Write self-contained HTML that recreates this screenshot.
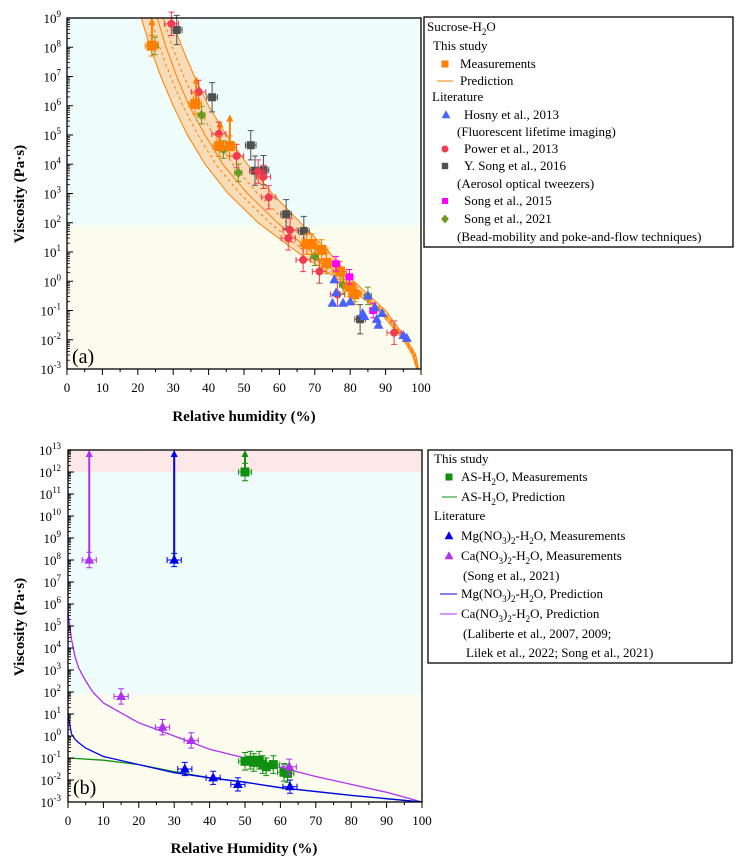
<!DOCTYPE html>
<html><head><meta charset="utf-8"><style>
body{margin:0;background:#fff;}
svg{display:block;font-family:"Liberation Serif",serif;}
</style></head><body>
<svg id="fig" width="736" height="867" viewBox="0 0 736 867">
<g id="pa"></g>
<g id="pb"></g>
</svg>
<script>
// ---------- Panel (a) data ----------
const bandLogs=[9,8,7,6,5,4,3,2,1,0,-1,-2,-2.5,-3];
const bandLower=[21,23.5,26.5,30,34,39,45.5,54,65,77.5,88,95,97.5,98.8];
const bandCenter=[25.5,28,31,34.5,39,44,51,59.5,69,79,89,95.5,98,99];
const bandUpper=[29.5,32.5,36,40,45,51,58,66,74,81,90,96,98.5,99.3];
const orangeRH=[23.9,36.2,43,46,67.7,69.1,71.9,73.3,77.1,79.8,81.2];
const orangeLog=[8.05,6.06,4.62,4.62,1.27,1.27,1.07,0.62,0.33,-0.19,-0.45];
const orangeArrowRH=[24,36.5,43.2,46];
const orangeArrowFrom=[8.05,6.06,4.62,4.62];
const orangeArrowTo=[9,7,5.5,5.7];
const redRH=[29.5,37.2,42.9,47.9,55.5,57,63,62.5,66.7,71.3,76.4,92.4,54];
const redLog=[8.8,6.47,5.04,4.28,3.57,2.87,1.75,1.47,0.73,0.33,-0.45,-1.76,3.75];
const blackRH=[31,41,51.9,53.1,55.5,61.9,66.9,82.8];
const blackLog=[8.59,6.29,4.65,3.78,3.8,2.29,1.72,-1.3];
const greenRH=[24.8,38,44.2,48.4,70,78,81.2,85];
const greenLog=[8.05,5.68,4.5,3.71,0.84,-0.13,-0.4,-0.5];
const blueRH=[75.5,75,76,78,80,83.5,84,85,87,87.5,88,89,95,96];
const blueLog=[0.05,-0.75,-0.4,-0.75,-0.7,-1.1,-1.2,-0.5,-0.9,-1.3,-1.5,-1.1,-1.85,-1.95];
const magRH=[76,79.8,86.5];
const magLog=[0.6,0.15,-1.0];
const aYTicks=[9,8,7,6,5,4,3,2,1,0,-1,-2,-3];
const xTicks=[0,10,20,30,40,50,60,70,80,90,100];
// ---------- Panel (b) data ----------
const caPredRH=[0,0.5,1,2,3,5,7,10,15,20,25,30,40,50,60,70,80,90,100];
const caPredLog=[5.6,5.0,4.4,3.6,3.1,2.5,2.0,1.5,1.05,0.6,0.3,0.0,-0.6,-1.0,-1.43,-1.84,-2.2,-2.56,-3];
const mgPredRH=[0,0.5,1,2,3,5,10,20,30,40,50,60,80,100];
const mgPredLog=[1.05,0.5,0.1,-0.15,-0.3,-0.55,-0.93,-1.3,-1.67,-1.9,-2.1,-2.35,-2.7,-3];
const asPredRH=[0,10,20,30,40,50,60,80,100];
const asPredLog=[-1.0,-1.1,-1.3,-1.62,-1.9,-2.1,-2.35,-2.7,-3];
const caRH=[6,15,26.7,34.8,62.5];
const caLog=[8,1.8,0.4,-0.2,-1.4];
const mgRH=[30,33,41,48,62.7];
const mgLog=[8,-1.5,-1.9,-2.2,-2.3];
const asRH=[50,50,51.5,52.5,54,55,56,58,61,62];
const asLog=[12,-1.15,-1.1,-1.2,-1.1,-1.3,-1.4,-1.3,-1.65,-1.7];
const bYTicks=[13,12,11,10,9,8,7,6,5,4,3,2,1,0,-1,-2,-3];

const NS="http://www.w3.org/2000/svg";
function mk(parent,tag,attrs,text){const e=document.createElementNS(NS,tag);for(const k in attrs)e.setAttribute(k,attrs[k]);if(text!==undefined)e.textContent=text;parent.appendChild(e);return e;}
const xA=r=>67+r*3.54, yA=l=>18+(9-l)*29.25;
const xB=r=>68+r*3.54, yB=l=>450+(13-l)*22;

function marker(g,shape,x,y,c,s,name){
 let e;
 if(shape==='sq')e=mk(g,'rect',{x:x-s,y:y-s,width:2*s,height:2*s,fill:c});
 else if(shape==='ci')e=mk(g,'circle',{cx:x,cy:y,r:s,fill:c});
 else if(shape==='tr')e=mk(g,'polygon',{points:`${x},${y-s*1.2} ${x-s*1.1},${y+s*0.8} ${x+s*1.1},${y+s*0.8}`,fill:c});
 else e=mk(g,'polygon',{points:`${x},${y-s*1.3} ${x+s*1.1},${y} ${x},${y+s*1.3} ${x-s*1.1},${y}`,fill:c});
 
 
}
function errbar(g,xs,ys,x0,x1,y0,y1,c){
 mk(g,'path',{d:`M${x0},${ys}H${x1}M${x0},${ys-3}v6M${x1},${ys-3}v6M${xs},${y0}V${y1}M${xs-3},${y0}h6M${xs-3},${y1}h6`,stroke:c,'stroke-width':1,fill:'none'});
}
function series(g,X,Y,rh,lg,shape,c,s,name,xe,ye){
 for(let i=0;i<rh.length;i++){
  const x=X(rh[i]),y=Y(lg[i]);
  if(xe!==undefined)errbar(g,x,y,X(rh[i]-xe),X(rh[i]+xe),Y(lg[i]+ye),Y(lg[i]-ye),c);
  marker(g,shape,x,y,c,s,name);
 }
}
function poly(X,Y,rh,lg){return rh.map((r,i)=>`${X(r).toFixed(1)},${Y(lg[i]).toFixed(1)}`).join(' ');}

function axes(g,X,Y,yt,yLabelX){
 const x0=X(0),x1=X(100),yb=Y(yt[yt.length-1]),ytop=Y(yt[0]);
 mk(g,'rect',{x:x0,y:ytop,width:x1-x0,height:yb-ytop,fill:'none',stroke:'#000','stroke-width':1.3});
 for(let r=0;r<=100;r+=5){mk(g,'line',{x1:X(r),y1:yb,x2:X(r),y2:yb+(r%10?3:6),stroke:'#000'});}
 xTicks.forEach(r=>{const t=mk(g,'text',{x:X(r),y:yb+23,'font-size':13,'text-anchor':'middle'},String(r));
  });
 yt.forEach((l,i)=>{const y=Y(l);mk(g,'line',{x1:x0,y1:y,x2:x0+6,y2:y,stroke:'#000'});
  if(i<yt.length-1){for(let m=2;m<10;m++){const ym=Y(l-1+Math.log10(m));mk(g,'line',{x1:x0,y1:ym,x2:x0+3,y2:ym,stroke:'#000','stroke-width':0.8});}}
  const t=mk(g,'text',{x:yLabelX,y:y+5,'font-size':13,'text-anchor':'end'},'10');
  mk(t,'tspan',{dy:-6,'font-size':9},String(l));
  });
}

// ===== Panel A =====
const A=document.getElementById('pa');
mk(A,'rect',{x:xA(0),y:yA(9),width:354,height:yA(1.9)-yA(9),fill:'#eefcfc'});
mk(A,'rect',{x:xA(0),y:yA(1.9),width:354,height:yA(-3)-yA(1.9),fill:'#fcfcee'});
const bandPts=poly(xA,yA,bandLower,bandLogs)+' '+poly(xA,yA,bandUpper.slice().reverse(),bandLogs.slice().reverse());
const bp=mk(A,'polygon',{points:bandPts,fill:'#f8dcb8',stroke:'none'});

[bandLower,bandCenter,bandUpper].forEach(arr=>mk(A,'polyline',{points:poly(xA,yA,arr,bandLogs),fill:'none',stroke:'#ff8000','stroke-width':1}));
[0.5,1.5].forEach(f=>{const arr=bandLower.map((v,i)=>f<1?v+(bandCenter[i]-v)*f*1.2:bandCenter[i]+(bandUpper[i]-bandCenter[i])*(f-1)*0.8);
 mk(A,'polyline',{points:poly(xA,yA,arr,bandLogs),fill:'none',stroke:'#ff8000','stroke-width':1,'stroke-dasharray':'3,3'});});
orangeArrowRH.forEach((r,i)=>{const x=xA(r);mk(A,'line',{x1:x,y1:yA(orangeArrowFrom[i]),x2:x,y2:yA(orangeArrowTo[i])+4,stroke:'#ff8000','stroke-width':2});
 mk(A,'polygon',{points:`${x},${yA(orangeArrowTo[i])} ${x-3.5},${yA(orangeArrowTo[i])+7} ${x+3.5},${yA(orangeArrowTo[i])+7}`,fill:'#ff8000'});});
series(A,xA,yA,blackRH,blackLog,'sq','#505050',4,'y-song-2016-point',1.5,0.5);
series(A,xA,yA,redRH,redLog,'ci','#f03c50',4,'power-2013-point',2,0.4);
series(A,xA,yA,greenRH,greenLog,'di','#6a9a20',4,'song-2021-point',1,0.3);
series(A,xA,yA,orangeRH,orangeLog,'sq','#ff8000',5,'measurement-point',1.8,0.35);
series(A,xA,yA,magRH,magLog,'sq','#ff00ff',3.5,'song-2015-point',1,0.25);
series(A,xA,yA,blueRH,blueLog,'tr','#4a60ff',4.5,'hosny-2013-point');
axes(A,xA,yA,aYTicks,61);
mk(A,'text',{x:72,y:363,'font-size':20},'(a)');
let t=mk(A,'text',{x:244,y:421,'font-size':15,'font-weight':'bold','text-anchor':'middle'},'Relative humidity (%)');

t=mk(A,'text',{x:0,y:0,'font-size':15,'font-weight':'bold','text-anchor':'middle',transform:'translate(24,194) rotate(-90)'},'Viscosity (Pa·s)');

const LA=mk(A,'g',{});
mk(LA,'rect',{x:424,y:17,width:309,height:230,fill:'#fff',stroke:'#000','stroke-width':1.3});
function lt(g,x,y,s,name){const e=mk(g,'text',{x:x,y:y,'font-size':13},s);return e;}
t=lt(LA,427,31,'Sucrose-H','legend-title');mk(t,'tspan',{dy:4,'font-size':9},'2');mk(t,'tspan',{dy:-4},'O');
lt(LA,433,50,'This study','legend-heading');
marker(LA,'sq',445,64,'#ff8000',3.5,'legend-marker');lt(LA,460,68,'Measurements','legend-entry');
mk(LA,'line',{x1:437,y1:81,x2:453,y2:81,stroke:'#ff8000'});lt(LA,460,85,'Prediction','legend-entry');
lt(LA,432,101,'Literature','legend-heading');
marker(LA,'tr',446,115,'#4a60ff',4,'legend-marker');lt(LA,464,119,'Hosny et al., 2013','legend-entry');
lt(LA,457,136,'(Fluorescent lifetime imaging)','legend-note');
marker(LA,'ci',445,149,'#f03c50',3.5,'legend-marker');lt(LA,464,153,'Power et al., 2013','legend-entry');
marker(LA,'sq',445,166,'#505050',3.2,'legend-marker');lt(LA,464,170,'Y. Song et al., 2016','legend-entry');
lt(LA,457,188,'(Aerosol optical tweezers)','legend-note');
marker(LA,'sq',445,201,'#ff00ff',3,'legend-marker');lt(LA,464,205,'Song et al., 2015','legend-entry');
marker(LA,'di',445,219,'#6a9a20',3.5,'legend-marker');lt(LA,464,223,'Song et al., 2021','legend-entry');
lt(LA,457,241,'(Bead-mobility and poke-and-flow techniques)','legend-note');

// ===== Panel B =====
const B=document.getElementById('pb');
mk(B,'rect',{x:xB(0),y:yB(13),width:354,height:yB(12)-yB(13),fill:'#fde8e8'});
mk(B,'rect',{x:xB(0),y:yB(12),width:354,height:yB(1.9)-yB(12),fill:'#eefcfc'});
mk(B,'rect',{x:xB(0),y:yB(1.9),width:354,height:yB(-3)-yB(1.9),fill:'#fcfcee'});
[[caPredRH,caPredLog,'#b030f0','ca-prediction-line'],[asPredRH,asPredLog,'#109010','as-prediction-line'],[mgPredRH,mgPredLog,'#0000ee','mg-prediction-line']].forEach(s=>{
 const p=mk(B,'polyline',{points:poly(xB,yB,s[0],s[1]),fill:'none',stroke:s[2],'stroke-width':1.3});
 });
[[caRH[0],caLog[0],'#b030f0'],[mgRH[0],mgLog[0],'#0000ee'],[asRH[0],asLog[0],'#109010']].forEach(a=>{const x=xB(a[0]);
 mk(B,'line',{x1:x,y1:yB(a[1]),x2:x,y2:yB(13)+4,stroke:a[2],'stroke-width':2});
 mk(B,'polygon',{points:`${x},${yB(13)} ${x-3.5},${yB(13)+7} ${x+3.5},${yB(13)+7}`,fill:a[2]});});
series(B,xB,yB,asRH,asLog,'sq','#109010',4.5,'as-measurement-point',1.8,0.4);
series(B,xB,yB,caRH,caLog,'tr','#b030f0',4.5,'ca-measurement-point',2,0.35);
series(B,xB,yB,mgRH,mgLog,'tr','#0000ee',4.5,'mg-measurement-point',2,0.3);
axes(B,xB,yB,bYTicks,61);
mk(B,'text',{x:73,y:794,'font-size':20},'(b)');
t=mk(B,'text',{x:244,y:853,'font-size':15,'font-weight':'bold','text-anchor':'middle'},'Relative Humidity (%)');

t=mk(B,'text',{x:0,y:0,'font-size':15,'font-weight':'bold','text-anchor':'middle',transform:'translate(24,627) rotate(-90)'},'Viscosity (Pa·s)');

const LB=mk(B,'g',{});
mk(LB,'rect',{x:428,y:450,width:304,height:213,fill:'#fff',stroke:'#000','stroke-width':1.3});
function sub(t,a,b,c){mk(t,'tspan',{},a);mk(t,'tspan',{dy:4,'font-size':9},b);mk(t,'tspan',{dy:-4},c);}
function salt(t,ion,rest){sub(t,ion+'(NO','3',')');mk(t,'tspan',{dy:4,'font-size':9},'2');mk(t,'tspan',{dy:-4},'-H');mk(t,'tspan',{dy:4,'font-size':9},'2');mk(t,'tspan',{dy:-4},rest);}
lt(LB,434,463,'This study','legend-heading');
marker(LB,'sq',449,477,'#109010',3.5,'legend-marker');t=lt(LB,461,481,'','legend-entry');sub(t,'AS-H','2','O, Measurements');
mk(LB,'line',{x1:442,y1:497,x2:457,y2:497,stroke:'#109010'});t=lt(LB,461,501,'','legend-entry');sub(t,'AS-H','2','O, Prediction');
lt(LB,434,520,'Literature','legend-heading');
marker(LB,'tr',449,536,'#0000ee',4,'legend-marker');t=lt(LB,461,540,'','legend-entry');salt(t,'Mg','O, Measurements');
marker(LB,'tr',449,556,'#b030f0',4,'legend-marker');t=lt(LB,461,560,'','legend-entry');salt(t,'Ca','O, Measurements');
lt(LB,463,580,'(Song et al., 2021)','legend-note');
mk(LB,'line',{x1:440,y1:594,x2:457,y2:594,stroke:'#0000ee'});t=lt(LB,461,598,'','legend-entry');salt(t,'Mg','O, Prediction');
mk(LB,'line',{x1:440,y1:614,x2:457,y2:614,stroke:'#b030f0'});t=lt(LB,461,618,'','legend-entry');salt(t,'Ca','O, Prediction');
lt(LB,463,638,'(Laliberte et al., 2007, 2009;','legend-note');
lt(LB,466,657,'Lilek et al., 2022; Song et al., 2021)','legend-note');
</script>
</body></html>
